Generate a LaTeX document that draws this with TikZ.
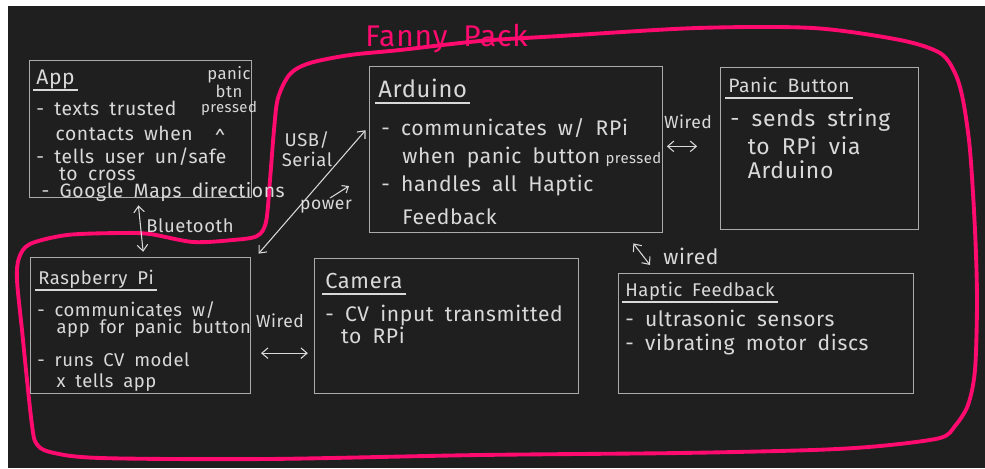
\documentclass[tikz,border=0pt]{standalone}
\usepackage{fontspec}
\setmainfont{Fira Sans}[WordSpace=1.8,LetterSpace=3]
\usetikzlibrary{calc}
\usetikzlibrary{arrows.meta}

\definecolor{board}{HTML}{201F1F}
\definecolor{chalk}{HTML}{D9D9D9}
\definecolor{frame}{HTML}{ABABAB}
\definecolor{hotpink}{HTML}{FF0A6E}

\tikzset{
  part/.style={draw=frame, line width=0.8pt, anchor=north west, inner sep=0pt},
  heading/.style={anchor=base west, inner sep=0pt, text=chalk},
  notes/.style={anchor=north west, align=left, inner sep=0pt, text=chalk},
  tag/.style={inner sep=0pt, text=chalk, align=center},
  wire/.style={draw=chalk, line width=0.6pt,
    {Straight Barb[length=3.5pt,width=6pt]}-{Straight Barb[length=3.5pt,width=6pt]}},
}

\begin{document}
\begin{tikzpicture}[x=0.02cm, y=-0.02cm]
  %
  % BOARD
  \fill[white] (0,0) rectangle (985,468);
  \fill[board] (8,6) rectangle (985,468);
  \useasboundingbox (0,0) rectangle (985,468);
  %
  % FANNY PACK
  \draw[hotpink, line width=2.2pt] plot[smooth cycle, tension=0.5] coordinates {
    (290,74) (310,63) (350,55) (400,50) (480,41) (560,36) (697,28) (813,28)
    (900,40) (940,53) (955,73) (963,100) (970,150) (975,230) (977,300) (975,370)
    (968,405) (955,426) (940,438) (880,446) (813,450) (680,453) (480,455) (267,459)
    (100,458) (50,452) (36,443) (32,425) (27,380) (22,330) (17,280) (19,258)
    (30,244) (67,235) (120,233) (150,234) (193,242) (233,240) (257,236) (266,222)
    (270,180) (274,130) (278,98)};
  \node[anchor=base west, inner sep=0pt, text=hotpink, font=\fontsize{17}{17}\selectfont] (packlbl) at (365,46) {Fanny Pack};
  %
  % APP
  \node[part, minimum width=4.44cm, minimum height=2.74cm] (app) at (29,60) {};
  \node[heading, font=\fontsize{12}{12}\selectfont] (apptitle) at (36,84) {App};
  \node[notes, font=\fontsize{11}{9.5}\selectfont] (appnotes) at (36,101) {- texts trusted\\[4.5pt]
    \hspace*{11pt}contacts when\\[3.5pt]
    - tells user un/safe\\[0.5pt]
    \hspace*{13pt}to cross\\
    \hspace*{3pt}- Google Maps directions};
  \node[tag, font=\fontsize{9.5}{8.5}\selectfont] (btnnote) at (229,91) {panic\\btn\\{\fontsize{8.5}{8.5}\selectfont pressed}};
  \node[tag, font=\fontsize{11}{11}\selectfont] (caret) at (220,137) {\textasciicircum};
  %
  % ARDUINO
  \node[part, minimum width=5.86cm, minimum height=3.32cm] (ard) at (369,66) {};
  \node[heading, font=\fontsize{13.5}{13.5}\selectfont] (ardtitle) at (378,97) {Arduino};
  \node[notes, font=\fontsize{12}{16}\selectfont] (ardnotes) at (381,118) {- communicates w/ RPi\\
    \hspace*{12pt}when panic button\hspace{3pt}{\fontsize{8.5}{8.5}\selectfont pressed}\\
    - handles all Haptic\\[2.7pt]
    \hspace*{12pt}Feedback};
  %
  % PANIC BUTTON
  \node[part, minimum width=3.96cm, minimum height=3.24cm] (panic) at (720,67) {};
  \node[heading, font=\fontsize{11}{11}\selectfont] (panictitle) at (728,92) {Panic Button};
  \node[notes, font=\fontsize{13}{14}\selectfont] (panicnotes) at (730,108) {- sends string\\[2pt]
    \hspace*{10pt}to RPi via\\
    \hspace*{10pt}Arduino};
  %
  % RASPBERRY PI
  \node[part, minimum width=4.40cm, minimum height=2.72cm] (rpi) at (30,257) {};
  \node[heading, font=\fontsize{10.5}{10.5}\selectfont] (rpititle) at (38,284) {Raspberry Pi};
  \node[notes, font=\fontsize{10.5}{10}\selectfont] (rpinotes) at (37,301) {- communicates w/\\
    \hspace*{11pt}app for panic button\\[7.5pt]
    - runs CV model\\[2pt]
    \hspace*{11pt}x tells app};
  %
  % CAMERA
  \node[part, minimum width=5.28cm, minimum height=2.70cm] (cam) at (314,258) {};
  \node[heading, font=\fontsize{12.4}{12.4}\selectfont] (camtitle) at (325,288) {Camera};
  \node[notes, font=\fontsize{12}{12.5}\selectfont] (camnotes) at (325,305) {- CV input transmitted\\
    \hspace*{9pt}to RPi};
  %
  % HAPTIC FEEDBACK
  \node[part, minimum width=5.90cm, minimum height=2.40cm] (haptic) at (618,273) {};
  \node[heading, font=\fontsize{10.5}{10.5}\selectfont] (haptitle) at (625,296) {Haptic Feedback};
  \node[notes, font=\fontsize{12}{13.6}\selectfont] (hapnotes) at (625,310) {- ultrasonic sensors\\
    - vibrating motor discs};
  %
  % underlines
  \foreach \t in {apptitle,ardtitle,panictitle,rpititle,camtitle,haptitle}
    \draw[chalk, line width=0.6pt] ($(\t.base west)+(-3,6)$) -- ($(\t.base east)+(3,6)$);
  %
  % LINKS
  \draw[wire, shorten <=4pt, shorten >=3pt] ($(app.south)+(-3,0)$) -- ($(rpi.north)+(3,0)$);
  \node[tag, font=\fontsize{10.5}{10.5}\selectfont] (btlbl) at (190,226) {Bluetooth};
  %
  \draw[wire, shorten <=1pt, shorten >=3pt] ($(rpi.north east)+(6,-2)$) -- ($(ard.north west)!0.36!(ard.south west)$);
  \node[tag, font=\fontsize{10.5}{11}\selectfont] (usblbl) at (307,149) {USB/\\Serial};
  \node[tag, font=\fontsize{10}{10}\selectfont] (powerlbl) at (326,207) {power};
  \draw[chalk, line width=0.6pt, -{Straight Barb[length=3pt,width=5pt]}] ($(powerlbl.north)+(4,-2)$) -- ++(19,-12);
  %
  \coordinate (ardwire) at ($(ard.north east)!0.48!(ard.south east)$);
  \draw[wire, shorten <=2pt, shorten >=13pt] (ardwire) -- (panic.west |- ardwire);
  \node[tag, font=\fontsize{10}{10}\selectfont] (wirelbl1) at (688,122) {Wired};
  %
  \coordinate (rpiwire) at ($(rpi.north east)!0.7!(rpi.south east)$);
  \draw[wire, shorten <=5.5pt, shorten >=3.5pt] (rpiwire) -- (cam.west |- rpiwire);
  \node[tag, font=\fontsize{10}{10}\selectfont] (wirelbl2) at (280,321) {Wired};
  %
  \draw[wire] ($(ard.south east)+(-30,10)$) -- ($(haptic.north west)+(32,-8)$);
  \node[tag, font=\fontsize{12}{12}\selectfont] (wirelbl3) at (691,256) {wired};
  %
\end{tikzpicture}
\end{document}
